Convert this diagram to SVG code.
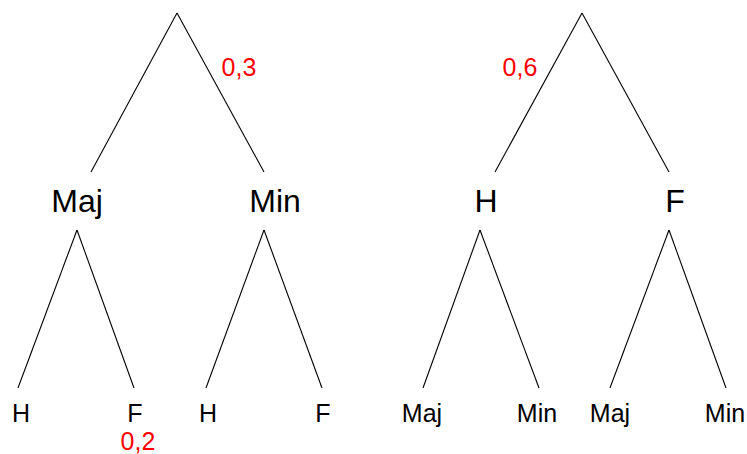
<svg xmlns="http://www.w3.org/2000/svg" width="747" height="454" viewBox="0 0 747 454">
<style>
.e{stroke:#000;stroke-width:1.1;fill:none}
.big{font-family:"Liberation Sans",Arial,sans-serif;font-size:32px;fill:#000;text-anchor:middle}
.sm{font-family:"Liberation Sans",Arial,sans-serif;font-size:25px;fill:#000;text-anchor:middle}
.p{font-family:"Liberation Sans",Arial,sans-serif;font-size:25px;fill:#ff0000;text-anchor:middle}
</style>
<rect width="747" height="454" fill="#fff"/>
<g id="connectors">
<line class="e" x1="177" y1="13" x2="91" y2="172"/>
<line class="e" x1="177" y1="13" x2="264" y2="172"/>
<line class="e" x1="582" y1="13" x2="495" y2="172"/>
<line class="e" x1="582" y1="13" x2="669" y2="172"/>
<line class="e" x1="77" y1="230" x2="18" y2="388"/>
<line class="e" x1="77" y1="230" x2="134" y2="388"/>
<line class="e" x1="264" y1="230" x2="206" y2="388"/>
<line class="e" x1="264" y1="230" x2="322" y2="388"/>
<line class="e" x1="480" y1="230" x2="423" y2="388"/>
<line class="e" x1="480" y1="230" x2="539" y2="388"/>
<line class="e" x1="669" y1="230" x2="610" y2="388"/>
<line class="e" x1="669" y1="230" x2="726" y2="388"/>
</g>
<g id="maj"><text class="big" x="77" y="212">Maj</text></g>
<g id="min"><text class="big" x="275" y="212">Min</text></g>
<g id="h"><text class="big" x="486" y="212">H</text></g>
<g id="f"><text class="big" x="675" y="212">F</text></g>
<g id="maj-h"><text class="sm" x="21" y="422">H</text></g>
<g id="maj-f"><text class="sm" x="135" y="422">F</text></g>
<g id="min-h"><text class="sm" x="208" y="422">H</text></g>
<g id="min-f"><text class="sm" x="323" y="422">F</text></g>
<g id="h-maj"><text class="sm" x="422" y="422">Maj</text></g>
<g id="h-min"><text class="sm" x="537" y="422">Min</text></g>
<g id="f-maj"><text class="sm" x="610" y="422">Maj</text></g>
<g id="f-min"><text class="sm" x="725" y="422">Min</text></g>
<g id="labels">
<text class="p" x="239" y="76">0,3</text>
<text class="p" x="520" y="76">0,6</text>
<text class="p" x="138" y="450">0,2</text>
</g>
</svg>
